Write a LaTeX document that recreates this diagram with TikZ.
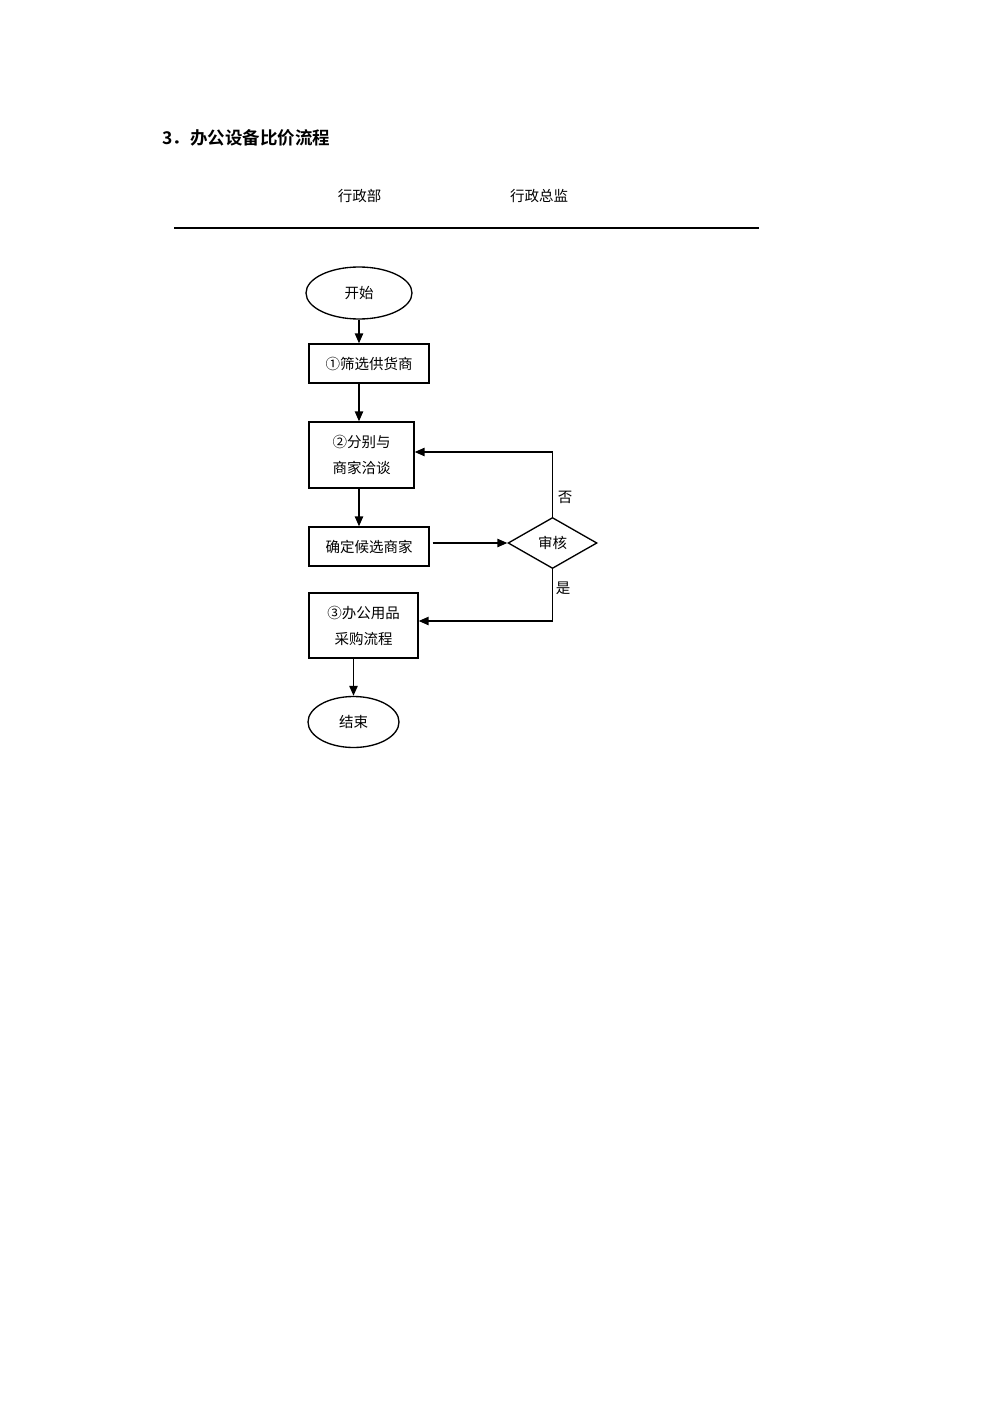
\documentclass[tikz,border=0pt]{standalone}
\usepackage{fontspec}
\setmainfont{Noto Sans CJK SC}
\newfontfamily\titlefont{Noto Sans CJK SC}[BoldFont=* Bold]
\usetikzlibrary{shapes.geometric,arrows.meta}
\begin{document}
\begin{tikzpicture}[x=0.6pt,y=-0.6pt,
  every node/.style={font=\fontsize{8.7pt}{15.6pt}\selectfont, inner sep=0pt},
  procbox/.style={draw, line width=0.8pt, rectangle, align=center},
  termel/.style={draw, line width=0.8pt, ellipse},
  decis/.style={draw, line width=0.8pt, diamond, aspect=1.745},
  arr/.style={line width=0.9pt, -{Triangle[length=6pt,width=5pt]}},
  lbl/.style={font=\fontsize{8.7pt}{10pt}\selectfont}
]
\fill[white] (0,0) rectangle (992,1403);
\useasboundingbox (0,0) rectangle (992,1403);

% header
\node[anchor=west, font=\titlefont\bfseries\fontsize{10.5pt}{12pt}\selectfont] (title) at (162,138) {3．办公设备比价流程};
\node (h1) at (359.5,196) {行政部};
\node (h2) at (539,196) {行政总监};
\coordinate (l1) at (174,228);
\coordinate (l2) at (759,228);
\draw[line width=0.9pt] (l1) -- (l2);

% nodes
\node[termel, minimum width=63.6pt, minimum height=31.2pt] (start) at (359,293) {开始};
\node[procbox, minimum width=72pt, minimum height=23.4pt] (b1) at (369,363.5) {①筛选供货商};
\node[procbox, minimum width=63pt, minimum height=39.6pt] (b2) at (361.5,455) {②分别与\\商家洽谈};
\node[procbox, minimum width=72pt, minimum height=23.4pt] (b3) at (369,546.5) {确定候选商家};
\node[decis, minimum width=53.4pt, minimum height=30.6pt] (dia) at (552.5,543) {审核};
\node[procbox, minimum width=65.4pt, minimum height=39pt] (b4) at (363.5,625.5) {③办公用品\\采购流程};
\node[termel, minimum width=54.6pt, minimum height=30.6pt] (end) at (353.5,722) {结束};

% connectors
\draw[arr] (start.south) -- (start.south |- b1.north);
\draw[arr] (b1.south -| start) -- (b2.north -| start);
\draw[arr] (b2.south -| start) -- (b3.north -| start);
\draw[arr] ([xshift=1.8pt]b3.east |- dia.west) -- (dia.west);
\draw[arr] (dia.north) |- ([yshift=1.8pt]b2.east);
\draw[arr] (dia.south) |- ([yshift=2.7pt]b4.east);
\draw[arr] (b4.south -| end) -- (end.north);

% labels
\node[lbl] (no) at (565,497) {否};
\node[lbl] (yes) at (563,588) {是};
\end{tikzpicture}
\end{document}
